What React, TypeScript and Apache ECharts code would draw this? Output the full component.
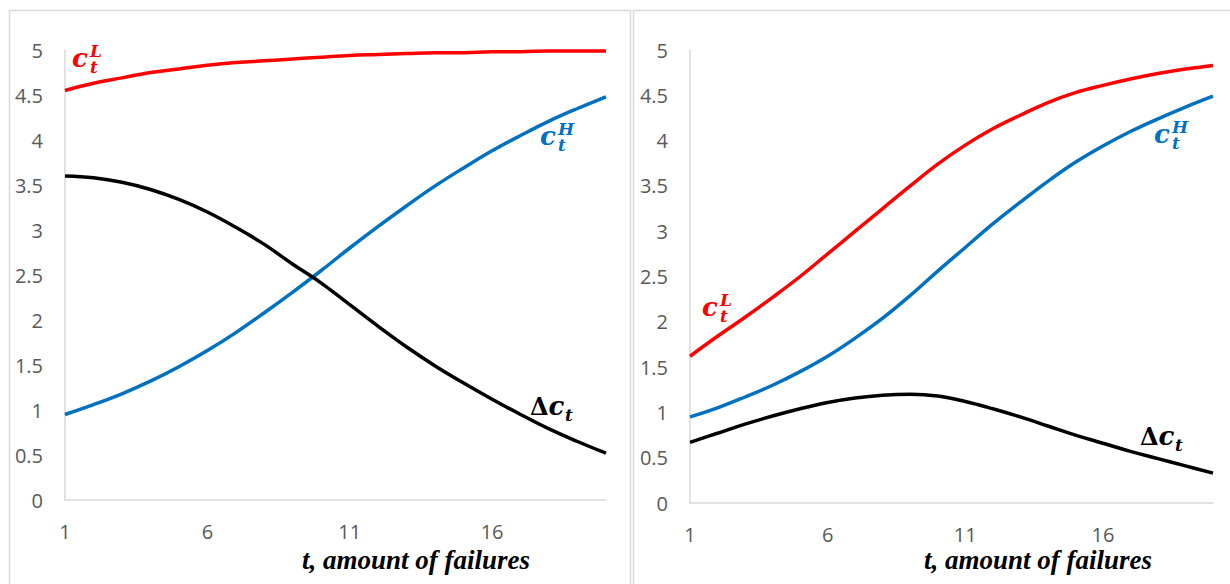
import React, { useEffect, useRef } from "react";
import * as echarts from "echarts";

const tValues = ["1","2","3","4","5","6","7","8","9","10","11","12","13","14","15","16","17","18","19","20"];
const yTicks = [0, 0.5, 1, 1.5, 2, 2.5, 3, 3.5, 4, 4.5, 5];

// Left panel
const leftCL = [4.55, 4.63, 4.69, 4.75, 4.79, 4.83, 4.86, 4.88, 4.90, 4.92, 4.94, 4.95, 4.96, 4.97, 4.97, 4.98, 4.98, 4.99, 4.99, 4.99];
const leftCH = [0.95, 1.06, 1.18, 1.32, 1.48, 1.66, 1.86, 2.08, 2.31, 2.55, 2.80, 3.04, 3.27, 3.49, 3.69, 3.88, 4.05, 4.21, 4.35, 4.48];
const leftDC = [3.60, 3.58, 3.53, 3.45, 3.34, 3.20, 3.03, 2.84, 2.62, 2.41, 2.17, 1.93, 1.70, 1.49, 1.30, 1.12, 0.95, 0.79, 0.65, 0.52];

// Right panel
const rightCL = [1.62, 1.84, 2.05, 2.27, 2.50, 2.75, 3.00, 3.25, 3.50, 3.74, 3.95, 4.13, 4.28, 4.42, 4.53, 4.61, 4.68, 4.74, 4.79, 4.83];
const rightCH = [0.95, 1.05, 1.17, 1.30, 1.45, 1.62, 1.82, 2.04, 2.29, 2.56, 2.82, 3.08, 3.32, 3.55, 3.76, 3.94, 4.10, 4.24, 4.37, 4.49];
const rightDC = [0.67, 0.77, 0.87, 0.96, 1.04, 1.11, 1.16, 1.19, 1.20, 1.18, 1.12, 1.04, 0.95, 0.85, 0.75, 0.66, 0.57, 0.49, 0.41, 0.33];

const xTitle = "t, amount of failures";

const RED = "#ff0000";
const BLUE = "#0070c0";
const BLACK = "#000000";
const AXIS = "#d9d9d9";
const LABEL = "#595959";
const MATH_FONT = "'DejaVu Serif', serif";

type Sym = { sup: string; color: string; left: number; cy: number; delta?: boolean };

function mathLabel(s: Sym): any[] {
  const mainText = s.delta ? "{d|Δ}{c|c}" : "{c|c}";
  const mainWidth = s.delta ? 35 : 18;
  return [
    {
      type: "text",
      x: s.left,
      y: s.cy,
      silent: true,
      style: {
        text: mainText,
        fill: s.color,
        textAlign: "left",
        textVerticalAlign: "middle",
        align: "left",
        verticalAlign: "middle",
        rich: {
          d: { fontFamily: MATH_FONT, fontWeight: "bold", fontSize: 24, fill: s.color, color: s.color },
          c: { fontFamily: MATH_FONT, fontWeight: "bold", fontStyle: "italic", fontSize: 26, fill: s.color, color: s.color },
        },
      },
    },
    {
      type: "text",
      x: s.left + mainWidth,
      y: s.cy + (s.sup ? 1 : 9),
      silent: true,
      style: {
        text: s.sup ? s.sup + "\nt" : "t",
        fill: s.color,
        fontFamily: MATH_FONT,
        fontWeight: "bold",
        fontStyle: "italic",
        fontSize: 17,
        lineHeight: 16,
        textAlign: "left",
        textVerticalAlign: "middle",
        align: "left",
        verticalAlign: "middle",
      },
    },
  ];
}

export default function App() {
  const ref = useRef<HTMLDivElement>(null);
  useEffect(() => {
    if (!ref.current) return;
    const chart = echarts.init(ref.current, null, { renderer: "svg" });

    const xAxisBase = (gridIndex: number) => ({
      type: "category",
      gridIndex,
      data: tValues,
      boundaryGap: false,
      axisLine: { show: true, lineStyle: { color: AXIS, width: 1.5 } },
      axisTick: { show: false },
      axisLabel: {
        interval: 4,
        color: LABEL,
        fontSize: 20,
        fontFamily: "'Open Sans', sans-serif",
        margin: 21,
      },
      splitLine: { show: false },
    });
    const yAxisBase = (gridIndex: number) => ({
      type: "value",
      gridIndex,
      min: yTicks[0],
      max: yTicks[yTicks.length - 1],
      interval: 0.5,
      axisLine: { show: true, lineStyle: { color: AXIS, width: 1.5 } },
      axisTick: { show: false },
      axisLabel: {
        color: LABEL,
        fontSize: 20,
        fontFamily: "'Open Sans', sans-serif",
        margin: 22,
      },
      splitLine: { show: false },
    });
    const line = (data: number[], color: string, xi: number) => ({
      type: "line",
      xAxisIndex: xi,
      yAxisIndex: xi,
      data,
      smooth: 0.4,
      symbol: "none",
      lineStyle: { color, width: 3.5 },
      z: color === BLACK ? 3 : 2,
    });

    const titleStyle = {
      text: xTitle,
      fill: BLACK,
      fontFamily: "'Liberation Serif', 'Times New Roman', serif",
      fontWeight: "bold",
      fontStyle: "italic",
      fontSize: 27,
      textAlign: "center",
      textVerticalAlign: "middle",
      align: "center",
      verticalAlign: "middle",
    };

    const option: any = {
      animation: false,
      backgroundColor: "#ffffff",
      grid: [
        { left: 65, top: 50, width: 541, height: 450 },
        { left: 690, top: 50, width: 523, height: 453 },
      ],
      xAxis: [xAxisBase(0), xAxisBase(1)],
      yAxis: [yAxisBase(0), yAxisBase(1)],
      series: [
        line(leftCL, RED, 0),
        line(leftCH, BLUE, 0),
        line(leftDC, BLACK, 0),
        line(rightCL, RED, 1),
        line(rightCH, BLUE, 1),
        line(rightDC, BLACK, 1),
      ],
      graphic: [
        {
          type: "rect",
          silent: true,
          shape: { x: 9.5, y: 10.5, width: 621, height: 600 },
          style: { fill: "none", stroke: AXIS, lineWidth: 1.5 },
          z: -1,
        },
        {
          type: "rect",
          silent: true,
          shape: { x: 633.5, y: 10.5, width: 620, height: 600 },
          style: { fill: "none", stroke: AXIS, lineWidth: 1.5 },
          z: -1,
        },
        { type: "text", x: 416, y: 560, silent: true, style: titleStyle },
        { type: "text", x: 1038, y: 560, silent: true, style: titleStyle },
        ...mathLabel({ sup: "L", color: RED, left: 72, cy: 58 }),
        ...mathLabel({ sup: "H", color: BLUE, left: 540, cy: 136 }),
        ...mathLabel({ sup: "", color: BLACK, left: 530, cy: 406, delta: true }),
        ...mathLabel({ sup: "L", color: RED, left: 702, cy: 307 }),
        ...mathLabel({ sup: "H", color: BLUE, left: 1154, cy: 134 }),
        ...mathLabel({ sup: "", color: BLACK, left: 1140, cy: 436, delta: true }),
      ],
    };
    chart.setOption(option);
    return () => chart.dispose();
  }, []);
  return (
    <div
      ref={ref}
      style={{ position: "absolute", left: 0, top: 0, width: 1230, height: 584 }}
    />
  );
}
